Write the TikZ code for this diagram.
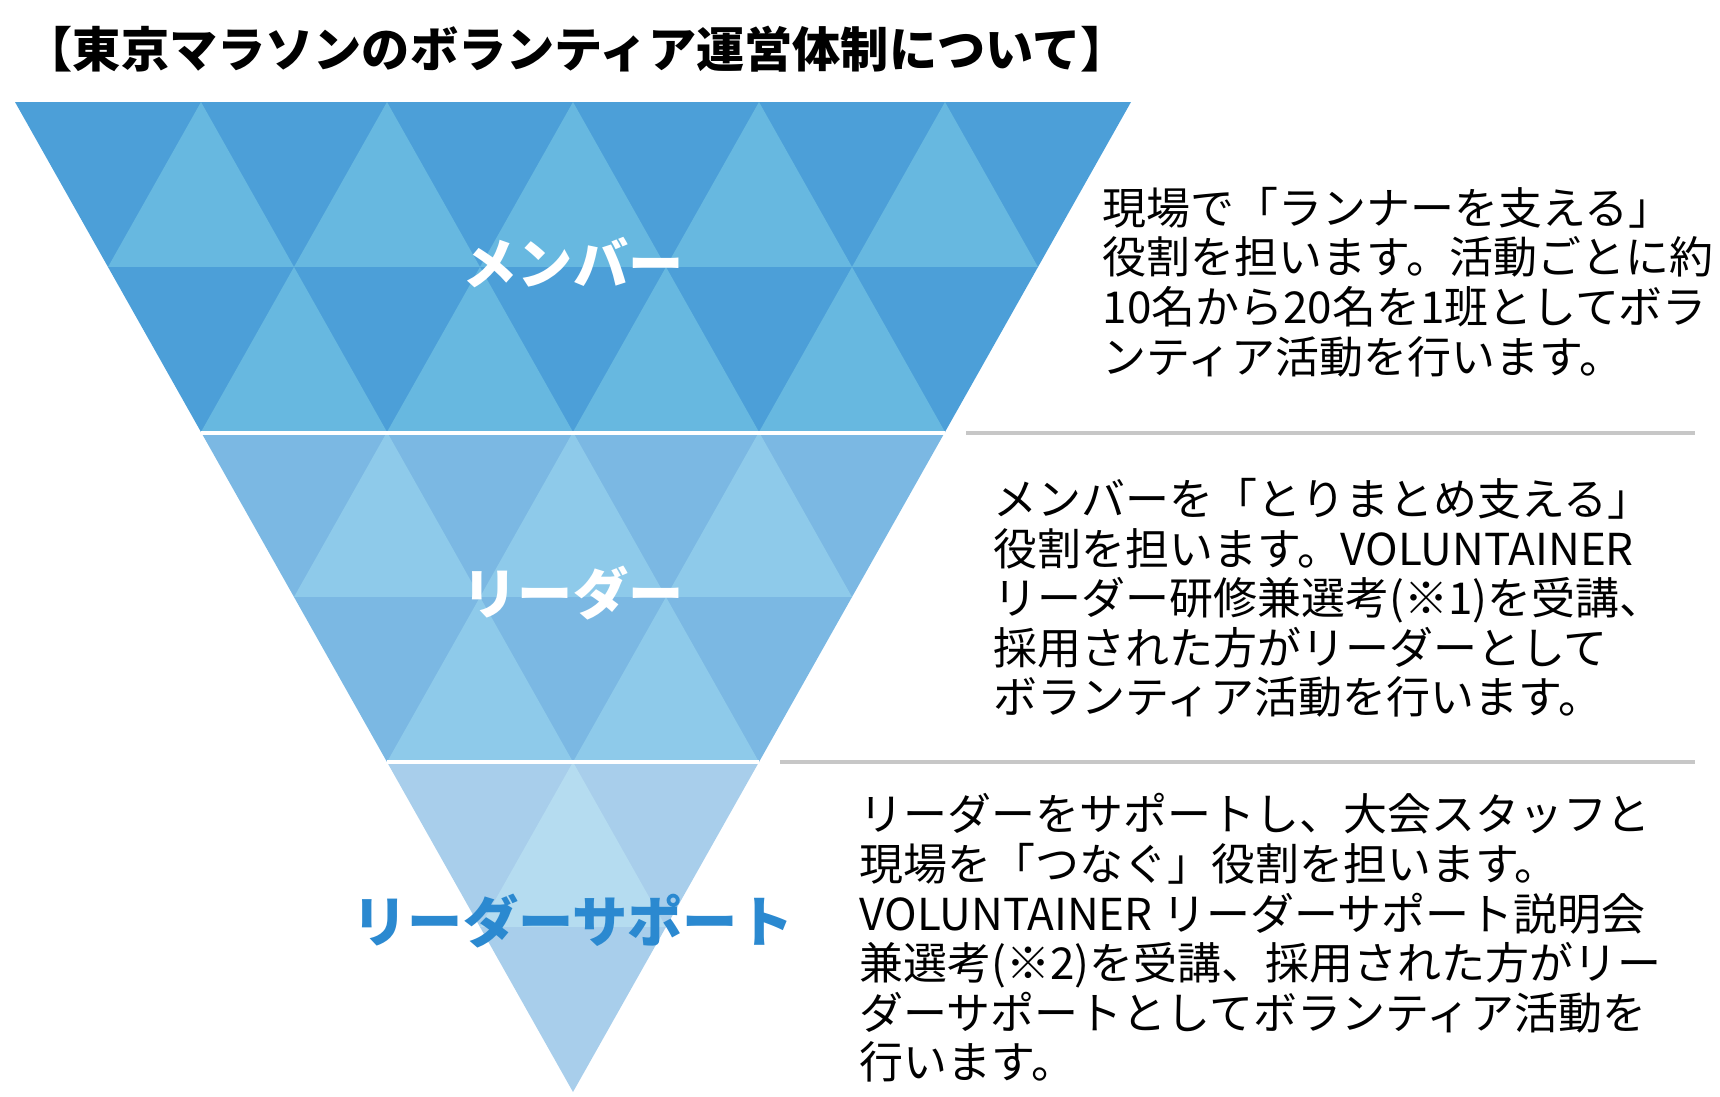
\documentclass[tikz,border=0pt]{standalone}
\usepackage{fontspec}
\setmainfont{Noto Sans CJK JP}
\usetikzlibrary{positioning}

\definecolor{memdark}{HTML}{4C9FD8}
\definecolor{memlight}{HTML}{67B8E0}
\definecolor{leadark}{HTML}{7BB8E3}
\definecolor{lealight}{HTML}{8ECAEA}
\definecolor{supdark}{HTML}{A8CEEB}
\definecolor{suplight}{HTML}{B5DCF0}
\definecolor{supblue}{HTML}{2B89D0}

\begin{document}
\begin{tikzpicture}[
            x = 0.01cm, y = -0.01cm, % one unit = one pixel, y downwards
            sep/.style = {draw = white, line width = 0.9pt},
            rule/.style = {draw = black!22, line width = 0.9pt},
            tier/.style = {font = \bfseries\fontsize{15.7}{18}\selectfont, inner sep = 0pt},
            note/.style = {font = \fontsize{12.5}{14.1}\selectfont, align = left, anchor = west, inner sep = 0pt}
        ]

        \useasboundingbox (0,0) rectangle (1720,1096);

        \node[anchor = west, inner sep = 0pt, font = \bfseries\fontsize{13.7}{16}\selectfont] (title) at (24,49) {【東京マラソンのボランティア運営体制について】};

        % rows of the funnel: dark strip, then the light upward triangles
        \foreach \r/\dk/\lt in {0/memdark/memlight, 1/memdark/memlight, 2/leadark/lealight,
                                3/leadark/lealight, 4/supdark/suplight, 5/supdark/suplight} {
            \fill[\dk] ({573-(6-\r)*93}, {102+165*\r}) -- ({573+(6-\r)*93}, {102+165*\r})
                -- ({573+(5-\r)*93}, {267+165*\r}) -- ({573-(5-\r)*93}, {267+165*\r}) -- cycle;
            \ifnum\r<5
                \pgfmathtruncatemacro\last{4-\r}
                \foreach \j in {0,...,\last}
                    \fill[\lt] ({573-(5-\r)*93+186*\j}, {267+165*\r}) -- ({573-(4-\r)*93+186*\j}, {102+165*\r})
                        -- ({573-(3-\r)*93+186*\j}, {267+165*\r}) -- cycle;
            \fi
        }

        \coordinate (cut1l) at (201,433);
        \coordinate (cut1r) at (945,433);
        \coordinate (cut2l) at (387,762);
        \coordinate (cut2r) at (759,762);
        \draw[sep] (cut1l) -- (cut1r);
        \draw[sep] (cut2l) -- (cut2r);

        \node[tier, text = white] (member) at (573,263) {メンバー};
        \node[tier, text = white] (leader) at (573,593) {リーダー};
        \node[tier, text = supblue] (support) at (573,921) {リーダーサポート};

        \coordinate (rule1a) at (966,433);
        \coordinate (rule1b) at (1695,433);
        \coordinate (rule2a) at (780,762);
        \coordinate (rule2b) at (1695,762);
        \draw[rule] (rule1a) -- (rule1b);
        \draw[rule] (rule2a) -- (rule2b);

        \node[note] (memnote) at (1102,282) {現場で「ランナーを支える」\\役割を担います。活動ごとに約\\10名から20名を1班としてボラ\\ンティア活動を行います。};
        \node[note] (leanote) at (993,598) {メンバーを「とりまとめ支える」\\役割を担います。VOLUNTAINER\\リーダー研修兼選考(※1)を受講、\\採用された方がリーダーとして\\ボランティア活動を行います。};
        \node[note] (supnote) at (859,938) {リーダーをサポートし、大会スタッフと\\現場を「つなぐ」役割を担います。\\VOLUNTAINER リーダーサポート説明会\\兼選考(※2)を受講、採用された方がリー\\ダーサポートとしてボランティア活動を\\行います。};
\end{tikzpicture}
\end{document}
